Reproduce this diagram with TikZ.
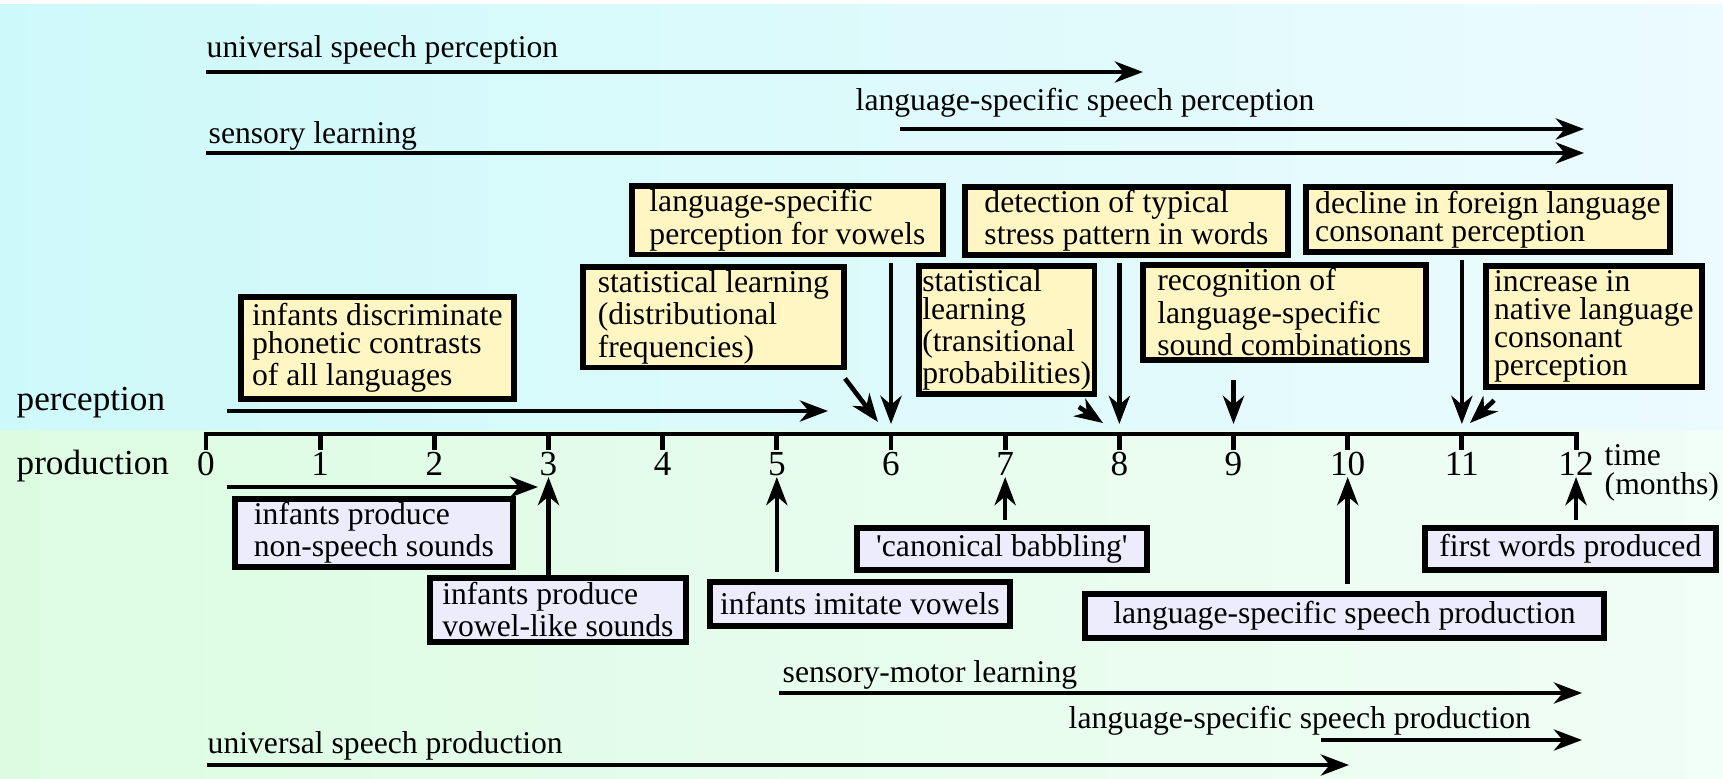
\documentclass[tikz,border=0pt]{standalone}
\usepackage{fontspec}
\setmainfont{Liberation Serif}
\usetikzlibrary{arrows.meta}
\tikzset{>={Stealth[length=8pt,width=6pt,inset=2.5pt]}}

\definecolor{percbg}{RGB}{206,249,250}
\definecolor{percbgR}{RGB}{236,251,253}
\definecolor{prodbg}{RGB}{220,252,226}
\definecolor{prodbgR}{RGB}{241,253,247}
\definecolor{perfill}{RGB}{255,246,196}
\definecolor{profill}{RGB}{236,236,252}

\begin{document}
\begin{tikzpicture}[x=0.01cm, y=-0.01cm,
  every node/.style={font=\fontsize{9}{8}\selectfont, inner sep=0pt},
  perbox/.style={draw, line width=1.6pt, fill=perfill, align=left, anchor=north west, inner xsep=2pt, inner ysep=1pt},
  probox/.style={draw, line width=1.6pt, fill=profill, align=left, anchor=north west, inner xsep=2pt, inner ysep=1pt},
  span/.style={->, line width=1.15pt},
  pin/.style={->, line width=1.3pt, shorten <=1.5pt},
  axis/.style={line width=1.4pt, line cap=rect},
  tick/.style={line width=1.4pt},
  axislbl/.style={font=\fontsize{10}{12}\selectfont, anchor=base}]
\useasboundingbox (0,0) rectangle (1723,778);

% background
\shade[left color=percbg, right color=percbgR] (0,4) rectangle (1723,430);
\shade[left color=prodbg, right color=prodbgR] (0,430) rectangle (1723,778);

% time axis
\foreach \m in {0,...,12} {
  \coordinate (t\m) at ({206+114.17*\m},434);
  \coordinate (a\m) at ({206+114.17*\m},424);
  \coordinate (b\m) at ({206+114.17*\m},477);
  \draw[tick] (t\m) -- ++(0,16);
  \node[axislbl] (n\m) at ({206+114.17*\m},475) {\m};
}
\draw[axis] (t0) -- (t12);

\node[axislbl, anchor=base west] (perc) at (16,410) {perception};
\node[axislbl, anchor=base west] (prod) at (16,474) {production};
\node[anchor=base west, align=left] (time) at (1604,494) {time\\(months)};

% long spans
\node[anchor=base west] (usp) at (206,57) {universal speech perception};
\node[anchor=base west] (lssp) at (855,110) {language-specific speech perception};
\node[anchor=base west] (sl) at (208,143) {sensory learning};
\node[anchor=base west] (sml) at (782,682) {sensory-motor learning};
\node[anchor=base west] (lspp) at (1068,728) {language-specific speech production};
\node[anchor=base west] (uspp) at (207,753) {universal speech production};

\foreach \n/\xa/\xb/\y in {usp/206/1143/72, lssp/900/1584/129, sl/206/1584/153,
    perc/227/828/411, prod/227/538/487,
    sml/779/1582/693, lspp/1321/1582/740, uspp/207/1349/765} {
  \coordinate (\n-s) at (\xa,\y);
  \coordinate (\n-e) at (\xb,\y);
  \draw[span] (\n-s) -- (\n-e);
}

% perception milestones
\node[perbox, minimum width=3.11cm, minimum height=0.67cm] (vowels) at (629,183)
  {language-specific\\perception for vowels};
\node[perbox, minimum width=3.23cm, minimum height=0.65cm] (stress) at (962,184)
  {detection of typical\\stress pattern in words};
\node[perbox, minimum width=3.64cm, minimum height=0.65cm] (decline) at (1303,184)
  {decline in foreign language\\consonant perception};
\node[perbox, minimum width=2.61cm, minimum height=0.99cm] (distfreq) at (580,264)
  {statistical learning\\(distributional\\frequencies)};
\node[perbox, minimum width=1.75cm, minimum height=1.21cm, inner xsep=1pt] (transprob) at (916,263)
  {statistical\\learning\\(transitional\\probabilities)};
\node[perbox, minimum width=2.83cm, minimum height=0.95cm] (soundcomb) at (1140,262)
  {recognition of\\language-specific\\sound combinations};
\node[perbox, minimum width=2.16cm, minimum height=1.21cm] (native) at (1483,263)
  {increase in\\native language\\consonant\\perception};
\node[perbox, minimum width=2.73cm, minimum height=1.02cm] (discrim) at (238,294)
  {infants discriminate\\phonetic contrasts\\of all languages};

\coordinate (a6l) at (878,422);
\coordinate (a8l) at (1103,423);
\coordinate (a11r) at (1470,423);
\draw[pin] (distfreq.south east) ++(-5,4) -- (a6l);
\draw[pin] (vowels.south -| a6) -- (a6);
\draw[pin] (transprob.south east) ++(-23,7) -- (a8l);
\draw[pin] (stress.south -| a8) -- (a8);
\draw[pin, shorten <=5pt] (soundcomb.south -| a9) -- (a9);
\draw[pin] (decline.south -| a11) -- (a11);
\draw[pin] (native.south west) ++(15,7) -- (a11r);

% production milestones
\node[probox, minimum width=2.78cm, minimum height=0.66cm] (nonspeech) at (232,496)
  {infants produce\\non-speech sounds};
\node[probox, minimum width=2.56cm, minimum height=0.64cm] (vowellike) at (427,575)
  {infants produce\\vowel-like sounds};
\node[probox, minimum width=3.00cm, minimum height=0.44cm] (imitate) at (707,579)
  {infants imitate vowels};
\node[probox, minimum width=2.90cm, minimum height=0.42cm] (babbling) at (854,525)
  {\textquotesingle canonical babbling\textquotesingle};
\node[probox, minimum width=5.19cm, minimum height=0.44cm] (langprod) at (1082,591)
  {language-specific speech production};
\node[probox, minimum width=2.91cm, minimum height=0.42cm] (firstwords) at (1422,525)
  {first words produced};

\draw[pin, shorten <=0pt] (vowellike.north -| b3) -- (b3);
\draw[pin, shorten <=2pt] (imitate.north -| b5) -- (b5);
\draw[pin] (babbling.north -| b7) -- (b7);
\draw[pin, shorten <=2pt] (langprod.north -| b10) -- (b10);
\draw[pin] (firstwords.north -| b12) -- (b12);
\end{tikzpicture}
\end{document}
